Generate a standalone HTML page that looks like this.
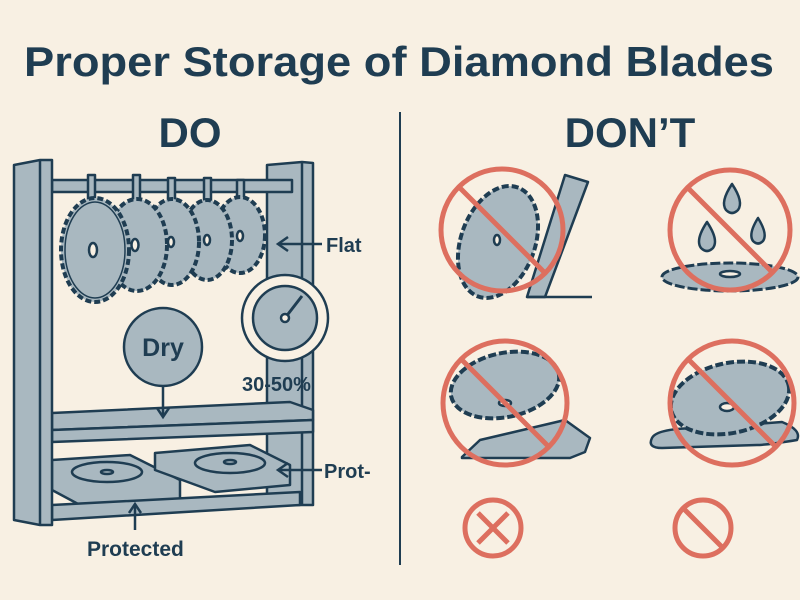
<!DOCTYPE html>
<html><head><style>html,body{margin:0;padding:0;background:#f8f0e3}svg{display:block}</style></head><body>
<svg width="800" height="600" viewBox="0 0 800 600" xmlns="http://www.w3.org/2000/svg" font-family="Liberation Sans, sans-serif">
<rect width="800" height="600" fill="#f8f0e3"/>
<text x="24" y="76" font-size="42" font-weight="bold" fill="#1f3d52" textLength="750" lengthAdjust="spacingAndGlyphs">Proper Storage of Diamond Blades</text>
<text x="190" y="147" text-anchor="middle" font-size="42" font-weight="bold" fill="#1f3d52">DO</text>
<text x="630" y="147" text-anchor="middle" font-size="42" font-weight="bold" fill="#1f3d52">DON’T</text>
<line x1="400" y1="112" x2="400" y2="565" stroke="#1f3d52" stroke-width="2"/>
<g stroke="#1f3d52" stroke-width="2.5" fill="#a9b8c0" stroke-linejoin="round">
<polygon points="267,165 302,162 313,163 313,505 302,505 267,505"/>
<line x1="302" y1="162" x2="302" y2="505"/>
<rect x="52" y="180" width="240" height="12"/>
<polygon points="52,413 290,402 313,410 313,420 52,430"/>
<polygon points="52,430 313,420 313,432 52,442"/>
<polygon points="52,460 130,455 180,480 180,500 80,505 52,490"/>
<ellipse cx="107" cy="472" rx="35" ry="10"/>
<ellipse cx="107" cy="472" rx="6" ry="2"/>
<polygon points="155,453 250,445 290,465 290,485 215,492 155,470"/>
<ellipse cx="230" cy="463" rx="35" ry="10"/>
<ellipse cx="230" cy="462" rx="6" ry="2"/>
<polygon points="52,505 300,492 300,505 52,520"/>
<polygon points="14,165 40,160 52,160 52,525 40,525 14,520"/>
<line x1="40" y1="160" x2="40" y2="525"/>
<g>
<rect x="88" y="175" width="7" height="30"/><rect x="133" y="175" width="7" height="28"/><rect x="168" y="178" width="7" height="26"/><rect x="204" y="178" width="7" height="24"/><rect x="237" y="180" width="7" height="22"/>
<ellipse cx="240" cy="235" rx="25" ry="38" stroke-dasharray="6 3" stroke-width="4"/>
<ellipse cx="207" cy="240" rx="25" ry="40" stroke-dasharray="6 3" stroke-width="4"/>
<ellipse cx="172" cy="242" rx="27" ry="43" stroke-dasharray="6 3" stroke-width="4"/>
<ellipse cx="137" cy="245" rx="30" ry="46" stroke-dasharray="6 3" stroke-width="4"/>
<ellipse cx="95" cy="250" rx="34" ry="52" stroke-dasharray="6 3" stroke-width="4"/>
<ellipse cx="95" cy="250" rx="30" ry="48" stroke-width="1.5"/>
<ellipse cx="93" cy="250" rx="4" ry="7" fill="#f8f0e3"/>
<ellipse cx="135" cy="245" rx="3.5" ry="6" fill="#f8f0e3"/>
<ellipse cx="171" cy="242" rx="3" ry="5" fill="#f8f0e3"/>
<ellipse cx="207" cy="240" rx="3" ry="5" fill="#f8f0e3"/>
<ellipse cx="240" cy="236" rx="3" ry="5" fill="#f8f0e3"/>
</g>
<circle cx="285" cy="318" r="43" fill="#f8f0e3"/>
<circle cx="285" cy="318" r="32"/>
<line x1="285" y1="318" x2="302" y2="296" stroke-width="3"/>
<circle cx="285" cy="318" r="4" fill="#f8f0e3"/>
<circle cx="163" cy="347" r="39"/>
</g>
<g stroke="#1f3d52" stroke-width="2.5" fill="none">
<line x1="322" y1="244" x2="280" y2="244"/><polyline points="288,237 278,244 288,251"/>
<line x1="163" y1="386" x2="163" y2="416"/><polyline points="157,408 163,417 169,408"/>
<line x1="322" y1="470" x2="280" y2="470"/><polyline points="288,463 278,470 288,477"/>
<line x1="135" y1="530" x2="135" y2="505"/><polyline points="129,513 135,504 141,513"/>
</g>
<g fill="#1f3d52" font-weight="bold">
<text x="326" y="252" font-size="20">Flat</text>
<text x="163" y="356" font-size="25" text-anchor="middle">Dry</text>
<text x="242" y="391" font-size="20">30-50%</text>
<text x="324" y="478" font-size="20">Prot-</text>
<text x="87" y="556" font-size="21">Protected</text>
</g>
<g stroke="#1f3d52" stroke-width="2.5" fill="#a9b8c0" stroke-linejoin="round">
<polygon points="565,175 588,182 545,297 527,297"/>
<line x1="527" y1="297" x2="592" y2="297"/>
<ellipse cx="498" cy="242" rx="37" ry="58" transform="rotate(20 498 242)" stroke-dasharray="7 3" stroke-width="4"/>
<ellipse cx="497" cy="240" rx="3" ry="5" fill="#f8f0e3"/>
<path d="M732,184 q-12,18 -6,26 q6,6 12,0 q6,-8 -6,-26z"/>
<path d="M707,222 q-12,18 -6,26 q6,6 12,0 q6,-8 -6,-26z"/>
<path d="M758,218 q-10,16 -5,23 q5,5 10,0 q5,-7 -5,-23z"/>
<ellipse cx="730" cy="277" rx="68" ry="14" stroke-dasharray="10 3" stroke-width="3"/>
<ellipse cx="730" cy="274" rx="10" ry="3" fill="#f8f0e3"/>
<polygon points="462,457 480,440 565,420 590,438 585,452 570,458 462,458"/>
<ellipse cx="505" cy="385" rx="55" ry="32" transform="rotate(-12 505 385)" stroke-dasharray="8 3" stroke-width="4"/>
<ellipse cx="505" cy="403" rx="6" ry="3" fill="#f8f0e3"/>
<path d="M652,438 q5,-10 50,-10 l80,-6 q20,8 15,18 q-30,5 -40,5 l-95,3 q-15,0 -10,-10z"/>
<ellipse cx="730" cy="398" rx="60" ry="35" transform="rotate(-12 730 398)" stroke-dasharray="8 3" stroke-width="4"/>
<ellipse cx="727" cy="407" rx="7" ry="4" fill="#f8f0e3"/>
</g>
<g stroke="#dd6f5f" stroke-width="5" fill="none">
<circle cx="502" cy="230" r="61"/><line x1="459" y1="187" x2="545" y2="273"/>
<circle cx="730" cy="230" r="60"/><line x1="688" y1="188" x2="772" y2="272"/>
<circle cx="505" cy="403" r="62"/><line x1="461" y1="359" x2="549" y2="447"/>
<circle cx="732" cy="403" r="62"/><line x1="688" y1="359" x2="776" y2="447"/>
<circle cx="493" cy="528" r="28"/><line x1="478" y1="513" x2="508" y2="543"/><line x1="508" y1="513" x2="478" y2="543"/>
<circle cx="703" cy="528" r="28"/><line x1="684" y1="509" x2="722" y2="547"/>
</g>
</svg>
</body></html>
